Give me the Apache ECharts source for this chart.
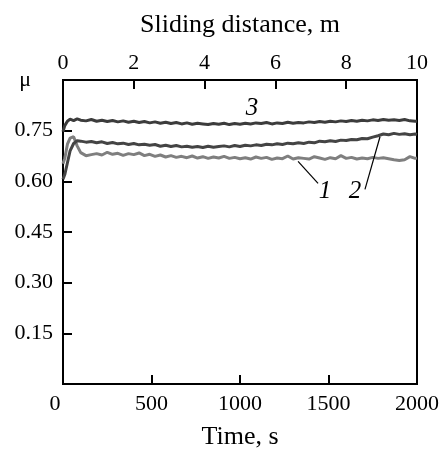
<!DOCTYPE html>
<html>
<head>
<meta charset="utf-8">
<script src="https://cdn.jsdelivr.net/npm/echarts@6/dist/echarts.min.js"></script>
<style>html,body{margin:0;padding:0;background:#fff;}#c{width:445px;height:457px;}</style>
</head>
<body>
<div id="c"></div>
<script>
const times = [0,10,25,40,60,80,100,130,160,190,220,250,280,310,340,370,400,430,460,490,520,550,580,610,640,670,700,730,760,790,820,850,880,910,940,970,1000,1030,1060,1090,1120,1150,1180,1210,1240,1270,1300,1330,1360,1390,1420,1450,1480,1510,1540,1570,1600,1630,1660,1690,1720,1750,1780,1810,1840,1870,1900,1930,1960,1990,2000];
const curve1 = [0.652,0.668,0.71,0.728,0.732,0.705,0.685,0.676,0.679,0.682,0.678,0.686,0.680,0.683,0.677,0.682,0.679,0.684,0.676,0.680,0.674,0.678,0.672,0.676,0.671,0.674,0.670,0.675,0.669,0.673,0.668,0.672,0.669,0.674,0.668,0.671,0.667,0.670,0.666,0.672,0.668,0.671,0.665,0.669,0.667,0.675,0.666,0.670,0.668,0.666,0.673,0.669,0.665,0.670,0.667,0.676,0.668,0.671,0.666,0.669,0.667,0.671,0.668,0.670,0.667,0.664,0.662,0.664,0.673,0.668,0.669];
const curve2 = [0.606,0.62,0.655,0.69,0.712,0.72,0.719,0.716,0.718,0.714,0.717,0.712,0.715,0.711,0.713,0.709,0.712,0.708,0.710,0.707,0.709,0.704,0.707,0.703,0.706,0.702,0.704,0.701,0.703,0.700,0.704,0.701,0.703,0.705,0.702,0.706,0.703,0.707,0.705,0.708,0.706,0.710,0.708,0.711,0.709,0.713,0.711,0.714,0.712,0.716,0.714,0.719,0.717,0.720,0.718,0.722,0.721,0.724,0.723,0.727,0.726,0.731,0.735,0.740,0.738,0.742,0.739,0.741,0.738,0.740,0.739];
const curve3 = [0.747,0.765,0.778,0.784,0.780,0.785,0.781,0.779,0.783,0.778,0.781,0.777,0.780,0.776,0.779,0.775,0.778,0.774,0.777,0.773,0.776,0.772,0.775,0.771,0.774,0.770,0.773,0.769,0.772,0.770,0.768,0.771,0.769,0.772,0.768,0.771,0.769,0.772,0.770,0.773,0.771,0.774,0.770,0.773,0.771,0.775,0.772,0.774,0.773,0.776,0.774,0.777,0.775,0.778,0.776,0.779,0.777,0.780,0.778,0.781,0.779,0.782,0.780,0.783,0.781,0.782,0.780,0.783,0.779,0.778,0.778];
const bottomTicks = [0,500,1000,1500,2000];
const topTicks = [0,2,4,6,8,10];
const yTicks = [0,0.15,0.30,0.45,0.60,0.75,0.90];
const curveLabels = [
  {name:'3', t:1068, v:0.815},
  {name:'1', t:1480, v:0.571},
  {name:'2', t:1650, v:0.571}
];
const leaderLines = [
  [[1328,0.659],[1441,0.594]],
  [[1706,0.576],[1791,0.732]]
];

const font = 'Liberation Serif';
const tickFont = 22;
const titleFont = 26;
const chart = echarts.init(document.getElementById('c'));
const mk = (vals) => times.map((t,i)=>[t, vals[i]]);
const axisLineStyle = {color:'#000', width:2};
chart.setOption({
  animation:false,
  backgroundColor:'#fff',
  grid:{left:63, right:28, top:80, bottom:73, show:true, borderColor:'#000', borderWidth:2},
  xAxis:[{
    type:'value', min:0, max:2000, interval:500, position:'bottom',
    name:'Time, s', nameLocation:'middle', nameGap:40,
    nameTextStyle:{fontFamily:font, fontSize:titleFont, color:'#000'},
    axisLine:{show:true, lineStyle:axisLineStyle},
    axisTick:{show:true, inside:true, length:9, lineStyle:{color:'#000', width:2}},
    axisLabel:{fontFamily:font, fontSize:tickFont, color:'#000', margin:9,
      formatter:v=> v===0 ? '{z|0}' : String(v),
      rich:{z:{fontFamily:font, fontSize:tickFont, color:'#000', padding:[0,16,0,0]}}},
    splitLine:{show:false}
  },{
    type:'value', min:0, max:10, interval:2, position:'top',
    name:'Sliding distance, m', nameLocation:'middle', nameGap:42,
    nameTextStyle:{fontFamily:font, fontSize:titleFont, color:'#000'},
    axisLine:{show:true, lineStyle:axisLineStyle},
    axisTick:{show:true, inside:true, length:9, lineStyle:{color:'#000', width:2}},
    axisLabel:{fontFamily:font, fontSize:tickFont, color:'#000', margin:6},
    splitLine:{show:false}
  }],
  yAxis:{
    type:'value', min:0, max:0.9, interval:0.15,
    axisLine:{show:true, lineStyle:axisLineStyle},
    axisTick:{show:true, inside:true, length:9, lineStyle:{color:'#000', width:2}},
    axisLabel:{fontFamily:font, fontSize:tickFont, color:'#000', margin:10,
      formatter:v=> v===0 ? '' : (Math.abs(v-0.9)<1e-6 ? '{m|μ}' : v.toFixed(2)),
      rich:{m:{fontFamily:font, fontSize:tickFont, color:'#000', padding:[0,22,0,0]}}},
    splitLine:{show:false}
  },
  series:[
    {type:'line', data:mk(curve1), showSymbol:false, lineStyle:{color:'#7f7f7f', width:3}, z:2},
    {type:'line', data:mk(curve2), showSymbol:false, lineStyle:{color:'#444444', width:3}, z:3},
    {type:'line', data:mk(curve3), showSymbol:false, lineStyle:{color:'#3c3c3c', width:3}, z:4,
      markPoint:{symbol:'circle', symbolSize:0, silent:true,
        label:{show:true, position:'inside', fontFamily:font, fontStyle:'italic', fontSize:25, color:'#000', formatter:p=>p.name},
        data:curveLabels.map(c=>({name:c.name, coord:[c.t,c.v]}))},
      markLine:{symbol:'none', silent:true, label:{show:false},
        lineStyle:{color:'#000', width:1.2, type:'solid'},
        data:leaderLines.map(l=>[{coord:l[0]},{coord:l[1]}])}
    }
  ]
});
</script>
</body>
</html>
